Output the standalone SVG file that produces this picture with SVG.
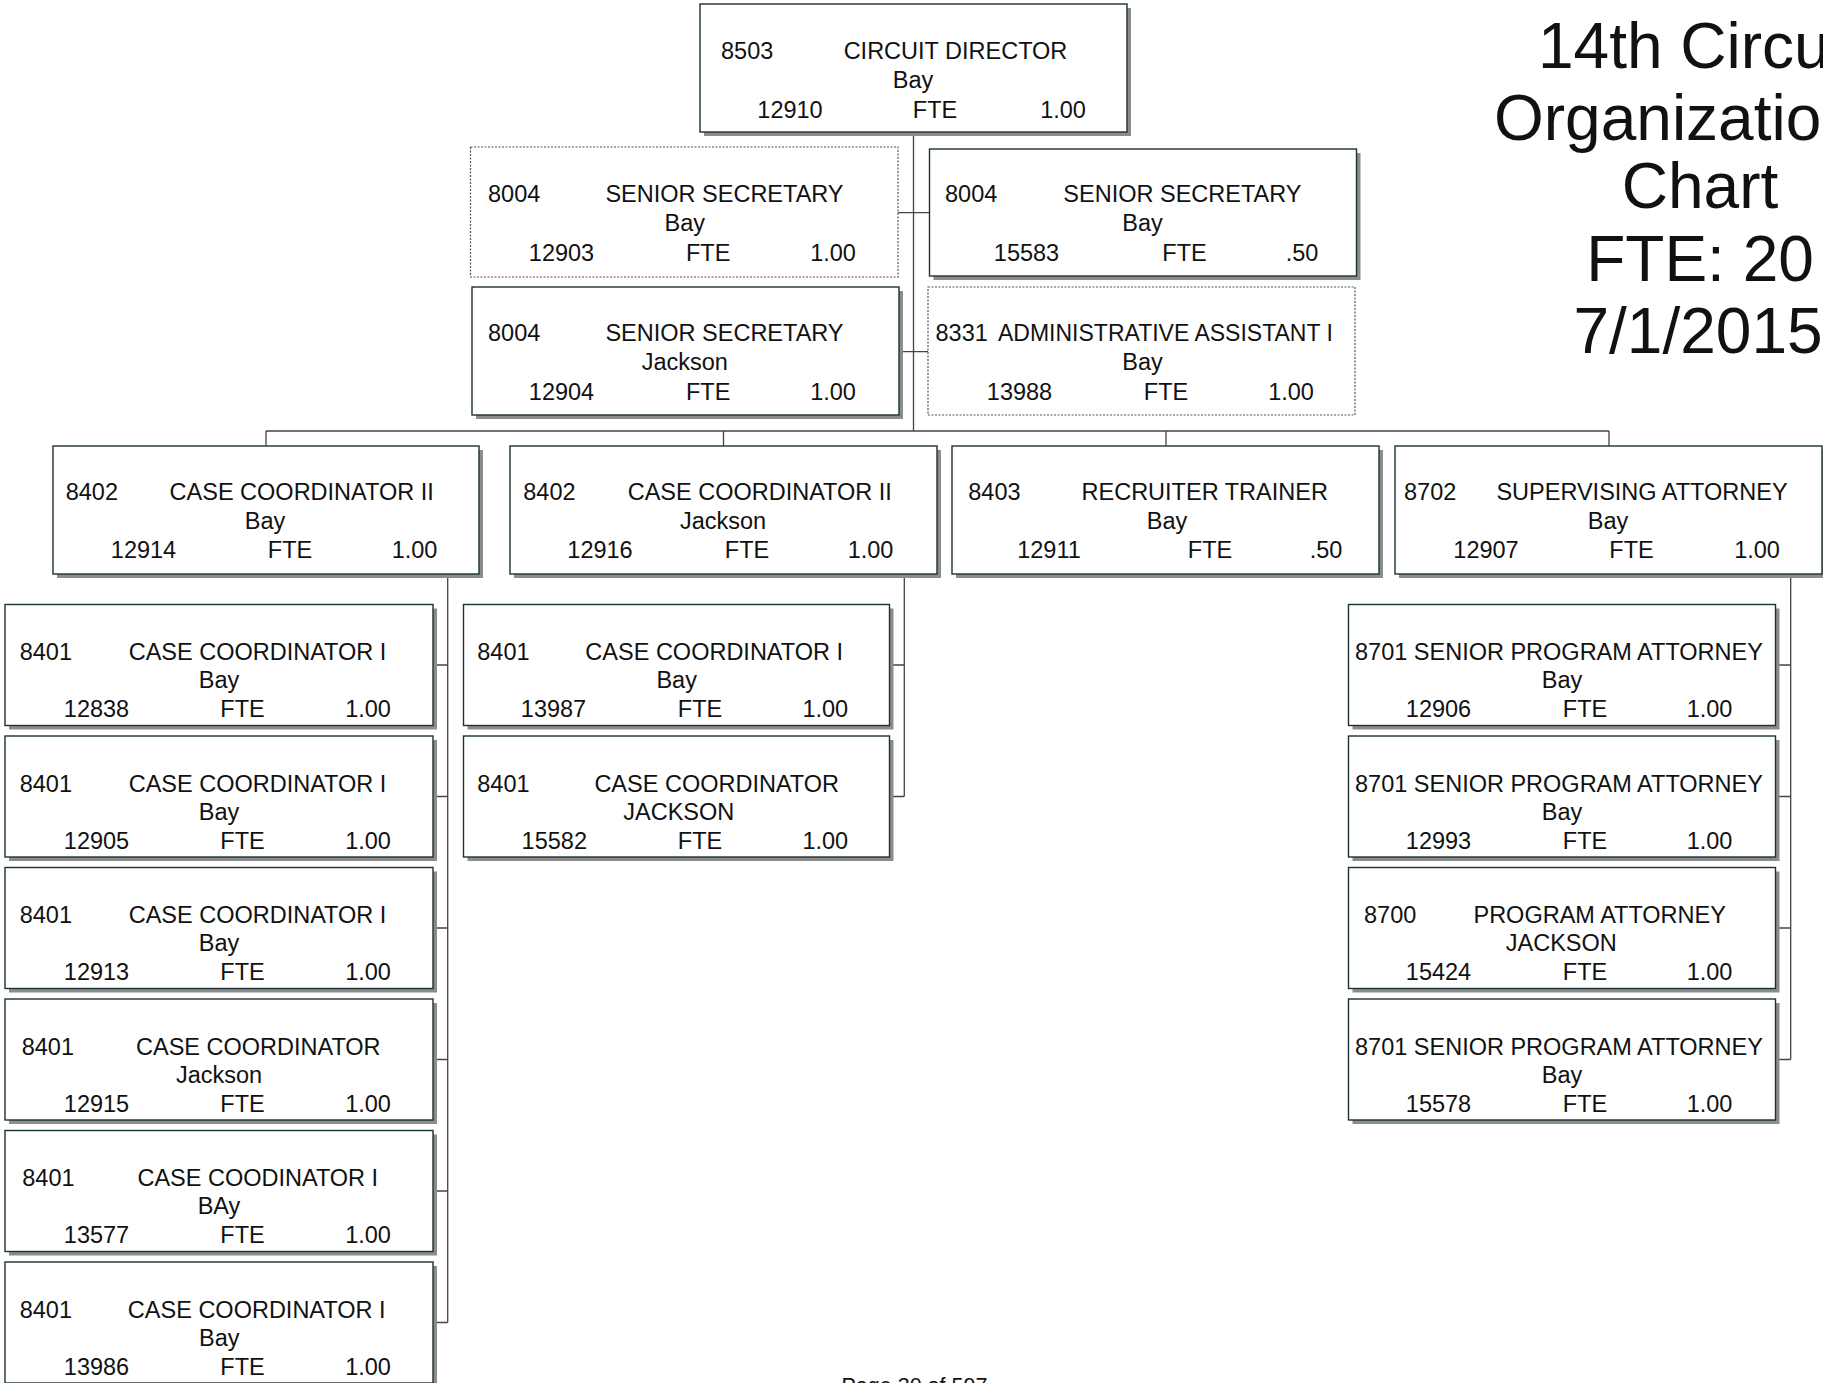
<svg xmlns="http://www.w3.org/2000/svg" width="1823" height="1383" viewBox="0 0 1823 1383">
<style>
.bg{fill:#ffffff}
.sh{fill:#8c8c8c}
.box{fill:#ffffff;stroke:#1c3232;stroke-width:1.4}
.dot{fill:#ffffff;stroke:#555555;stroke-width:1.2;stroke-dasharray:2 1.5}
.t{font-family:"Liberation Sans",Arial,sans-serif;font-size:23.5px;fill:#111111}
.m{text-anchor:middle}
.title{font-family:"Liberation Sans",Arial,sans-serif;font-size:64px;fill:#111111}
.foot{font-family:"Liberation Sans",Arial,sans-serif;font-size:21.5px;fill:#111111}
.ln{stroke:#444444;stroke-width:1.3;fill:none}
</style>
<rect class="bg" x="0" y="0" width="1823" height="1383"/>

<g id="connectors">
<path class="ln" d="M913.5 132V431M898 212.7H929.5M899 351.7H928M266 431H1609M266 431V446M723.5 431V446M1166 431V446M1609 431V446"/>
<path class="ln" d="M447.7 574V1322.5M433 665H447.7M433 796.5H447.7M433 928H447.7M433 1059.5H447.7M433 1191H447.7M433 1322.5H447.7"/>
<path class="ln" d="M904.3 574V796.5M889.5 665H904.3M889.5 796.5H904.3"/>
<path class="ln" d="M1790.7 574V1059.5M1775.5 665H1790.7M1775.5 796.5H1790.7M1775.5 928H1790.7M1775.5 1059.5H1790.7"/>
</g>

<g id="n-12910">
<rect class="sh" x="704" y="8" width="427" height="128"/>
<rect class="box" x="700" y="4" width="427" height="128"/>
<text class="t" x="721" y="59">8503</text>
<text class="t m" x="955.5" y="59">CIRCUIT DIRECTOR</text>
<text class="t m" x="913" y="88">Bay</text>
<text class="t m" x="790" y="118">12910</text>
<text class="t m" x="935" y="118">FTE</text>
<text class="t m" x="1063" y="118">1.00</text>
</g>

<g id="n-12903">
<rect class="dot" x="470.5" y="147" width="427.5" height="130"/>
<text class="t" x="488" y="202">8004</text>
<text class="t m" x="724.5" y="202">SENIOR SECRETARY</text>
<text class="t m" x="684.8" y="231">Bay</text>
<text class="t m" x="561.5" y="261">12903</text>
<text class="t m" x="708.2" y="261">FTE</text>
<text class="t m" x="833" y="261">1.00</text>
</g>

<g id="n-15583">
<rect class="sh" x="933.5" y="153" width="427" height="127"/>
<rect class="box" x="929.5" y="149" width="427" height="127"/>
<text class="t" x="945" y="202">8004</text>
<text class="t m" x="1182.4" y="202">SENIOR SECRETARY</text>
<text class="t m" x="1142.5" y="231">Bay</text>
<text class="t m" x="1026.5" y="261">15583</text>
<text class="t m" x="1184.5" y="261">FTE</text>
<text class="t m" x="1302" y="261">.50</text>
</g>

<g id="n-12904">
<rect class="sh" x="476" y="291" width="427" height="128"/>
<rect class="box" x="472" y="287" width="427" height="128"/>
<text class="t" x="488" y="341">8004</text>
<text class="t m" x="724.5" y="341">SENIOR SECRETARY</text>
<text class="t m" x="684.8" y="370">Jackson</text>
<text class="t m" x="561.5" y="400">12904</text>
<text class="t m" x="708.2" y="400">FTE</text>
<text class="t m" x="833" y="400">1.00</text>
</g>

<g id="n-13988">
<rect class="dot" x="928" y="287" width="427" height="128"/>
<text class="t" x="935.5" y="341">8331</text>
<text class="t" x="998" y="341" style="font-size:23px">ADMINISTRATIVE ASSISTANT I</text>
<text class="t m" x="1142.5" y="370">Bay</text>
<text class="t m" x="1019.5" y="400">13988</text>
<text class="t m" x="1166" y="400">FTE</text>
<text class="t m" x="1291" y="400">1.00</text>
</g>

<g id="n-12914">
<rect class="sh" x="57" y="450" width="426" height="128"/>
<rect class="box" x="53" y="446" width="426" height="128"/>
<text class="t" x="65.7" y="500">8402</text>
<text class="t m" x="301.7" y="500">CASE COORDINATOR II</text>
<text class="t m" x="265" y="529">Bay</text>
<text class="t m" x="143.5" y="558">12914</text>
<text class="t m" x="290" y="558">FTE</text>
<text class="t m" x="414.5" y="558">1.00</text>
</g>

<g id="n-12916">
<rect class="sh" x="514" y="450" width="427" height="128"/>
<rect class="box" x="510" y="446" width="427" height="128"/>
<text class="t" x="523.3" y="500">8402</text>
<text class="t m" x="759.8" y="500">CASE COORDINATOR II</text>
<text class="t m" x="723" y="529">Jackson</text>
<text class="t m" x="600" y="558">12916</text>
<text class="t m" x="747" y="558">FTE</text>
<text class="t m" x="870.5" y="558">1.00</text>
</g>

<g id="n-12911">
<rect class="sh" x="956" y="450" width="427" height="128"/>
<rect class="box" x="952" y="446" width="427" height="128"/>
<text class="t" x="968.3" y="500">8403</text>
<text class="t m" x="1204.7" y="500">RECRUITER TRAINER</text>
<text class="t m" x="1167" y="529">Bay</text>
<text class="t m" x="1049" y="558">12911</text>
<text class="t m" x="1210" y="558">FTE</text>
<text class="t m" x="1326" y="558">.50</text>
</g>

<g id="n-12907">
<rect class="sh" x="1399" y="450" width="427" height="128"/>
<rect class="box" x="1395" y="446" width="427" height="128"/>
<text class="t" x="1404" y="500">8702</text>
<text class="t m" x="1642" y="500">SUPERVISING ATTORNEY</text>
<text class="t m" x="1608" y="529">Bay</text>
<text class="t m" x="1486" y="558">12907</text>
<text class="t m" x="1631.5" y="558">FTE</text>
<text class="t m" x="1757" y="558">1.00</text>
</g>

<g id="n-12838">
<rect class="sh" x="9" y="608.5" width="428" height="121"/>
<rect class="box" x="5" y="604.5" width="428" height="121"/>
<text class="t" x="19.7" y="660">8401</text>
<text class="t m" x="257.5" y="660">CASE COORDINATOR I</text>
<text class="t m" x="219" y="688">Bay</text>
<text class="t m" x="96.5" y="717">12838</text>
<text class="t m" x="242.5" y="717">FTE</text>
<text class="t m" x="368" y="717">1.00</text>
</g>

<g id="n-12905">
<rect class="sh" x="9" y="740" width="428" height="121"/>
<rect class="box" x="5" y="736" width="428" height="121"/>
<text class="t" x="19.7" y="791.5">8401</text>
<text class="t m" x="257.5" y="791.5">CASE COORDINATOR I</text>
<text class="t m" x="219" y="819.5">Bay</text>
<text class="t m" x="96.5" y="848.5">12905</text>
<text class="t m" x="242.5" y="848.5">FTE</text>
<text class="t m" x="368" y="848.5">1.00</text>
</g>

<g id="n-12913">
<rect class="sh" x="9" y="871.5" width="428" height="121"/>
<rect class="box" x="5" y="867.5" width="428" height="121"/>
<text class="t" x="19.7" y="923">8401</text>
<text class="t m" x="257.5" y="923">CASE COORDINATOR I</text>
<text class="t m" x="219" y="951">Bay</text>
<text class="t m" x="96.5" y="980">12913</text>
<text class="t m" x="242.5" y="980">FTE</text>
<text class="t m" x="368" y="980">1.00</text>
</g>

<g id="n-12915">
<rect class="sh" x="9" y="1003" width="428" height="121"/>
<rect class="box" x="5" y="999" width="428" height="121"/>
<text class="t" x="21.7" y="1054.5">8401</text>
<text class="t m" x="258.3" y="1054.5">CASE COORDINATOR</text>
<text class="t m" x="219" y="1082.5">Jackson</text>
<text class="t m" x="96.5" y="1111.5">12915</text>
<text class="t m" x="242.5" y="1111.5">FTE</text>
<text class="t m" x="368" y="1111.5">1.00</text>
</g>

<g id="n-13577">
<rect class="sh" x="9" y="1134.5" width="428" height="121"/>
<rect class="box" x="5" y="1130.5" width="428" height="121"/>
<text class="t" x="22.3" y="1186">8401</text>
<text class="t m" x="257.8" y="1186">CASE COODINATOR I</text>
<text class="t m" x="219" y="1214">BAy</text>
<text class="t m" x="96.5" y="1243">13577</text>
<text class="t m" x="242.5" y="1243">FTE</text>
<text class="t m" x="368" y="1243">1.00</text>
</g>

<g id="n-13986">
<rect class="sh" x="9" y="1266" width="428" height="121"/>
<rect class="box" x="5" y="1262" width="428" height="121"/>
<text class="t" x="19.7" y="1317.5">8401</text>
<text class="t m" x="256.7" y="1317.5">CASE COORDINATOR I</text>
<text class="t m" x="219.3" y="1345.5">Bay</text>
<text class="t m" x="96.5" y="1374.5">13986</text>
<text class="t m" x="242.5" y="1374.5">FTE</text>
<text class="t m" x="368" y="1374.5">1.00</text>
</g>

<g id="n-13987">
<rect class="sh" x="467.5" y="608.5" width="426" height="121"/>
<rect class="box" x="463.5" y="604.5" width="426" height="121"/>
<text class="t" x="477.3" y="660">8401</text>
<text class="t m" x="714.2" y="660">CASE COORDINATOR I</text>
<text class="t m" x="676.7" y="688">Bay</text>
<text class="t m" x="553.5" y="717">13987</text>
<text class="t m" x="700" y="717">FTE</text>
<text class="t m" x="825.3" y="717">1.00</text>
</g>

<g id="n-15582">
<rect class="sh" x="467.5" y="740" width="426" height="121"/>
<rect class="box" x="463.5" y="736" width="426" height="121"/>
<text class="t" x="477.3" y="791.5">8401</text>
<text class="t m" x="716.7" y="791.5">CASE COORDINATOR</text>
<text class="t m" x="678.8" y="819.5">JACKSON</text>
<text class="t m" x="554.3" y="848.5">15582</text>
<text class="t m" x="700" y="848.5">FTE</text>
<text class="t m" x="825.3" y="848.5">1.00</text>
</g>

<g id="n-12906">
<rect class="sh" x="1352.5" y="608.5" width="427" height="121"/>
<rect class="box" x="1348.5" y="604.5" width="427" height="121"/>
<text class="t" x="1355" y="660">8701 SENIOR PROGRAM ATTORNEY</text>
<text class="t m" x="1562" y="688">Bay</text>
<text class="t m" x="1438.5" y="717">12906</text>
<text class="t m" x="1585" y="717">FTE</text>
<text class="t m" x="1709.5" y="717">1.00</text>
</g>

<g id="n-12993">
<rect class="sh" x="1352.5" y="740" width="427" height="121"/>
<rect class="box" x="1348.5" y="736" width="427" height="121"/>
<text class="t" x="1355" y="791.5">8701 SENIOR PROGRAM ATTORNEY</text>
<text class="t m" x="1562" y="819.5">Bay</text>
<text class="t m" x="1438.5" y="848.5">12993</text>
<text class="t m" x="1585" y="848.5">FTE</text>
<text class="t m" x="1709.5" y="848.5">1.00</text>
</g>

<g id="n-15424">
<rect class="sh" x="1352.5" y="871.5" width="427" height="121"/>
<rect class="box" x="1348.5" y="867.5" width="427" height="121"/>
<text class="t" x="1364" y="923">8700</text>
<text class="t m" x="1599.7" y="923">PROGRAM ATTORNEY</text>
<text class="t m" x="1561.3" y="951">JACKSON</text>
<text class="t m" x="1438.5" y="980">15424</text>
<text class="t m" x="1585" y="980">FTE</text>
<text class="t m" x="1709.5" y="980">1.00</text>
</g>

<g id="n-15578">
<rect class="sh" x="1352.5" y="1003" width="427" height="121"/>
<rect class="box" x="1348.5" y="999" width="427" height="121"/>
<text class="t" x="1355" y="1054.5">8701 SENIOR PROGRAM ATTORNEY</text>
<text class="t m" x="1562" y="1082.5">Bay</text>
<text class="t m" x="1438.5" y="1111.5">15578</text>
<text class="t m" x="1585" y="1111.5">FTE</text>
<text class="t m" x="1709.5" y="1111.5">1.00</text>
</g>

<g id="chart-title">
<text class="title" x="1538" y="68">14th Circu</text>
<text class="title" x="1494" y="140">Organizatio</text>
<text class="title m" x="1700" y="208">Chart</text>
<text class="title m" x="1700" y="281">FTE: 20</text>
<text class="title m" x="1698" y="353">7/1/2015</text>
</g>

<text class="foot" x="841.5" y="1393">Page 30 of 597</text>
</svg>
